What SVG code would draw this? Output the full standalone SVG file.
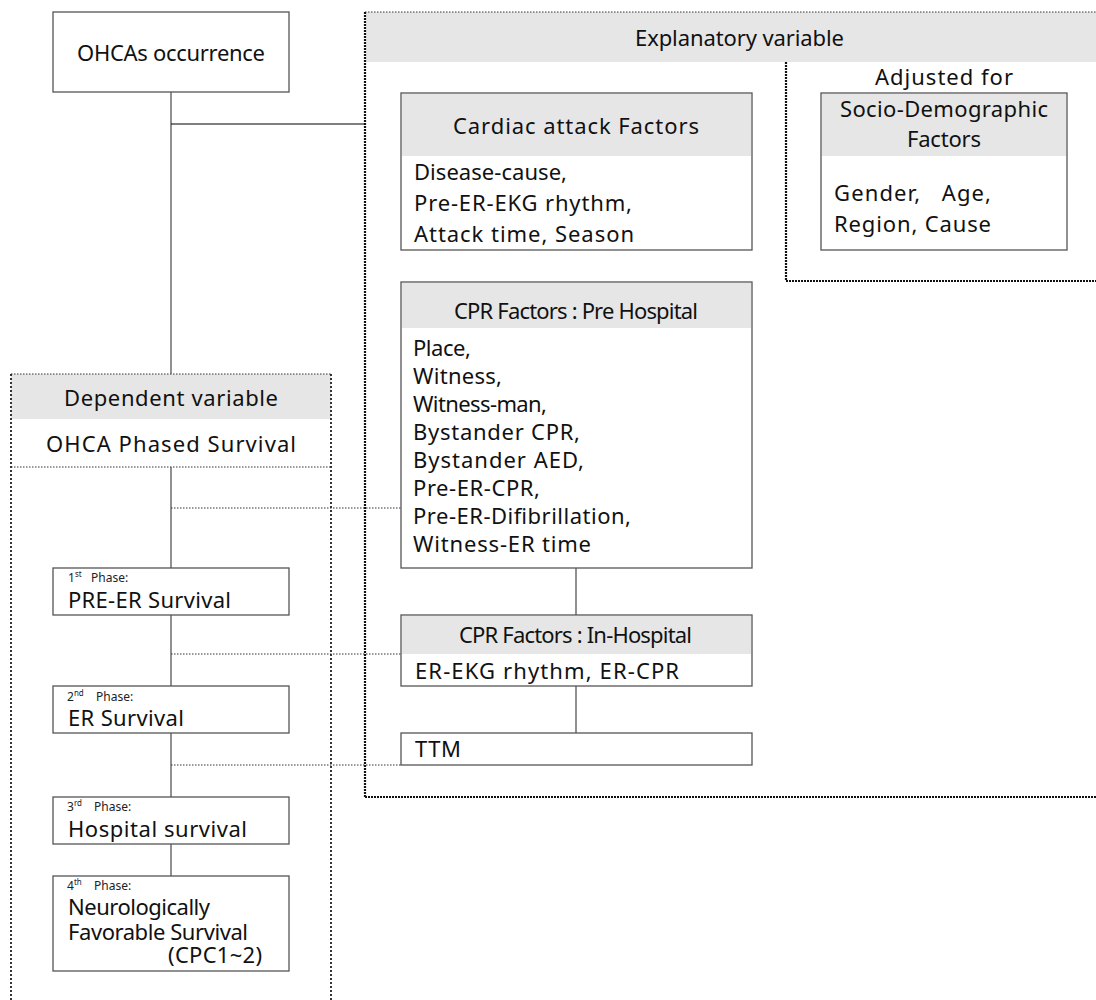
<svg xmlns="http://www.w3.org/2000/svg" width="1096" height="1000" viewBox="0 0 1096 1000">
<style>
text{font-family:"Noto Sans","Open Sans",sans-serif;font-size:22px;fill:#111}
.sm{font-size:12px;fill:#222}
.sup{font-size:8px}
.box{fill:#fff;stroke:#555;stroke-width:1.3}
.hdr{fill:#e6e6e6}
.ln{stroke:#555;stroke-width:1.3;fill:none}
.lnb{stroke:#000;stroke-width:1.2;fill:none}
.dot{stroke:#333;stroke-width:1;stroke-dasharray:1.5 1.5;fill:none}
.thick{stroke:#111;stroke-width:2.2;stroke-dasharray:2 1;fill:none}
.mid{stroke:#222;stroke-width:1.8;stroke-dasharray:2 2;fill:none}
</style>
<rect width="1096" height="1000" fill="#fff"/>

<g id="explanatory-container">
<rect class="hdr" x="366" y="12" width="730" height="50"/>
<line class="dot" x1="365" y1="12" x2="1096" y2="12"/>
<line class="thick" x1="365" y1="12" x2="365" y2="797"/>
<line class="thick" x1="365" y1="797" x2="1096" y2="797"/>
<text x="635" y="46" textLength="209">Explanatory variable</text>
</g>

<g id="adjusted-container">
<line class="thick" x1="786" y1="62" x2="786" y2="281"/>
<line class="thick" x1="786" y1="281" x2="1096" y2="281"/>
<text x="875" y="85" textLength="138">Adjusted for</text>
</g>

<g id="dependent-container">
<rect class="hdr" x="11" y="374" width="320" height="45"/>
<line class="dot" x1="11" y1="374" x2="331" y2="374"/>
<line class="mid" x1="11" y1="374" x2="11" y2="1000"/>
<line class="mid" x1="331" y1="374" x2="331" y2="1000"/>
<line class="dot" x1="11" y1="467" x2="331" y2="467"/>
<text x="64" y="406" textLength="214">Dependent variable</text>
<text x="46" y="452" textLength="250">OHCA Phased Survival</text>
</g>

<g id="connectors">
<line class="ln" x1="171" y1="92" x2="171" y2="374"/>
<line class="lnb" x1="171" y1="124" x2="365" y2="124"/>
<line class="ln" x1="171" y1="467" x2="171" y2="568"/>
<line class="ln" x1="171" y1="615" x2="171" y2="686"/>
<line class="ln" x1="171" y1="733" x2="171" y2="797"/>
<line class="ln" x1="171" y1="844" x2="171" y2="876"/>
<line class="ln" x1="576" y1="568" x2="576" y2="615"/>
<line class="ln" x1="576" y1="686" x2="576" y2="733"/>
<line class="dot" x1="171" y1="508" x2="401" y2="508"/>
<line class="dot" x1="171" y1="654" x2="401" y2="654"/>
<line class="dot" x1="171" y1="765" x2="401" y2="765"/>
</g>

<g id="ohcas-occurrence">
<rect class="box" x="53" y="12" width="236" height="80"/>
<text x="77" y="61" textLength="188">OHCAs occurrence</text>
</g>

<g id="cardiac-attack-factors">
<rect class="box" x="401" y="93" width="351" height="157"/>
<rect class="hdr" x="402" y="94" width="349" height="62"/>
<text x="453" y="134" textLength="246">Cardiac attack Factors</text>
<text x="414" y="180" textLength="153">Disease-cause,</text>
<text x="414" y="211" textLength="218">Pre-ER-EKG rhythm,</text>
<text x="414" y="242" textLength="220">Attack time, Season</text>
</g>

<g id="socio-demographic-factors">
<rect class="box" x="821" y="93" width="246" height="157"/>
<rect class="hdr" x="822" y="94" width="244" height="62"/>
<text x="840" y="117" textLength="208">Socio-Demographic</text>
<text x="907" y="147" textLength="74">Factors</text>
<text x="834" y="201" textLength="157" xml:space="preserve">Gender,   Age,</text>
<text x="834" y="232" textLength="157">Region, Cause</text>
</g>

<g id="cpr-pre-hospital">
<rect class="box" x="401" y="282" width="351" height="286"/>
<rect class="hdr" x="402" y="283" width="349" height="45"/>
<text x="454" y="319" textLength="244">CPR Factors : Pre Hospital</text>
<text x="413" y="356" textLength="58">Place,</text>
<text x="413" y="384" textLength="89">Witness,</text>
<text x="413" y="412" textLength="134">Witness-man,</text>
<text x="413" y="440" textLength="167">Bystander CPR,</text>
<text x="413" y="468" textLength="171">Bystander AED,</text>
<text x="413" y="496" textLength="127">Pre-ER-CPR,</text>
<text x="413" y="524" textLength="218">Pre-ER-Difibrillation,</text>
<text x="413" y="552" textLength="178">Witness-ER time</text>
</g>

<g id="cpr-in-hospital">
<rect class="box" x="401" y="615" width="351" height="71"/>
<rect class="hdr" x="402" y="616" width="349" height="38"/>
<text x="459" y="643" textLength="233">CPR Factors : In-Hospital</text>
<text x="415" y="679" textLength="264">ER-EKG rhythm, ER-CPR</text>
</g>

<g id="ttm">
<rect class="box" x="401" y="733" width="351" height="32"/>
<text x="415" y="757" textLength="46">TTM</text>
</g>

<g id="phase-1">
<rect class="box" x="53" y="568" width="236" height="47"/>
<text class="sm" x="68" y="582">1<tspan class="sup" dy="-5">st</tspan><tspan dy="5" x="91">Phase:</tspan></text>
<text x="68" y="608" textLength="163">PRE-ER Survival</text>
</g>

<g id="phase-2">
<rect class="box" x="53" y="686" width="236" height="47"/>
<text class="sm" x="67" y="701">2<tspan class="sup" dy="-5">nd</tspan><tspan dy="5" x="96">Phase:</tspan></text>
<text x="68" y="726" textLength="116">ER Survival</text>
</g>

<g id="phase-3">
<rect class="box" x="53" y="797" width="236" height="47"/>
<text class="sm" x="67" y="811">3<tspan class="sup" dy="-5">rd</tspan><tspan dy="5" x="94">Phase:</tspan></text>
<text x="68" y="837" textLength="179">Hospital survival</text>
</g>

<g id="phase-4">
<rect class="box" x="53" y="876" width="236" height="95"/>
<text class="sm" x="67" y="890">4<tspan class="sup" dy="-5">th</tspan><tspan dy="5" x="94">Phase:</tspan></text>
<text x="68" y="915" textLength="142">Neurologically</text>
<text x="68" y="940" textLength="180">Favorable Survival</text>
<text x="168" y="963" textLength="94">(CPC1~2)</text>
</g>
</svg>
